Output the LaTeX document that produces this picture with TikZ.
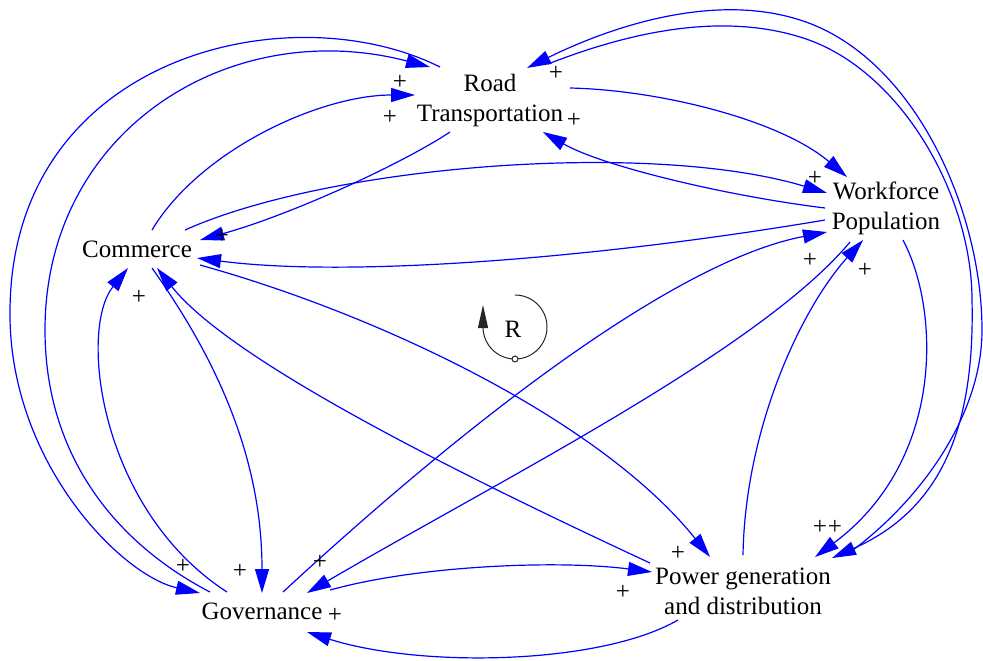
\documentclass[tikz,border=0pt]{standalone}
\usepackage{fontspec}
\setmainfont{Liberation Serif}
\usetikzlibrary{arrows.meta,calc}

\begin{document}
\begin{tikzpicture}[x=0.5pt,y=-0.5pt,
  every node/.style={font=\fontsize{12.5}{15}\selectfont, text=black, inner sep=0pt},
  var/.style={align=center},
  pol/.style={},
  link/.style={draw=blue, line width=0.6pt, -{Triangle[length=12pt,width=7pt]}},
  loopline/.style={draw=black!85, line width=0.5pt}]
\useasboundingbox (0,0) rectangle (983,660);

% variables
\node[var] (rt) at (490,100) {Road\\Transportation};
\node[var] (wf) at (886,208) {Workforce\\Population};
\node[var] (cm) at (137,249) {Commerce};
\node[var] (gv) at (262,611) {Governance};
\node[var] (pw) at (743,591) {Power generation\\and distribution};

% Commerce <-> Road Transportation
\draw[link] ($(cm)+(15,-19)$) .. controls (200,150) and (320,95) .. ($(rt)+(-75,-5)$);
\draw[link] ($(rt)+(-40,32)$) .. controls (400,165) and (290,215) .. ($(cm)+(63,-9)$);

% Commerce <-> Workforce Population
\draw[link] ($(cm)+(48,-19)$) .. controls (330,165) and (650,140) .. ($(wf)+(-59,-15)$);
\draw[link] ($(wf)+(-61,12)$) .. controls (600,258) and (350,278) .. ($(cm)+(60,9)$);

% Road Transportation <-> Workforce Population
\draw[link] ($(wf)+(-61,0)$) .. controls (720,195) and (600,165) .. ($(rt)+(53,32)$);
\draw[link] ($(rt)+(80,-12)$) .. controls (660,90) and (780,120) .. ($(wf)+(-39,-31)$);

% Road Transportation <-> Governance (outer left arcs)
\draw[link] ($(rt)+(-50,-33)$) .. controls (290,-8) and (12,55) .. (10,310)
  .. controls (8,460) and (120,575) .. ($(gv)+(-62,-18)$);
\draw[link] ($(gv)+(-52,-19)$) .. controls (110,540) and (45,450) .. (45,330)
  .. controls (45,130) and (230,15) .. ($(rt)+(-60,-33)$);

% Commerce <-> Governance
\draw[link] ($(gv)+(-35,-19)$) .. controls (100,510) and (78,330) .. ($(cm)+(-9,19)$);
\draw[link] ($(cm)+(15,19)$) .. controls (210,350) and (262,450) .. ($(gv)+(0,-18)$);

% Commerce <-> Power generation
\draw[link] ($(pw)+(-93,-28)$) .. controls (450,470) and (230,360) .. ($(cm)+(20,19)$);
\draw[link] ($(cm)+(63,16)$) .. controls (380,315) and (600,420) .. ($(pw)+(-33,-34)$);

% Governance <-> Workforce Population
\draw[link] ($(gv)+(21,-19)$) .. controls (480,410) and (680,260) .. ($(wf)+(-59,24)$);
\draw[link] ($(wf)+(-36,34)$) .. controls (760,350) and (500,480) .. ($(gv)+(45,-18)$);

% Governance <-> Power generation
\draw[link] ($(gv)+(68,-21)$) .. controls (420,565) and (560,560) .. ($(pw)+(-91,-19)$);
\draw[link] ($(pw)+(-65,29)$) .. controls (600,665) and (420,668) .. ($(gv)+(45,21)$);

% Power generation <-> Workforce Population
\draw[link] ($(pw)+(0,-36)$) .. controls (745,430) and (800,310) .. ($(wf)+(-23,32)$);
\draw[link] ($(wf)+(17,32)$) .. controls (940,310) and (945,460) .. ($(pw)+(72,-34)$);

% Road Transportation <-> Power generation (outer right arcs)
\draw[link] ($(rt)+(58,-36)$) .. controls (627,33) and (719,12) .. (800,37)
  .. controls (900,67) and (972,195) .. (972,300)
  .. controls (975,430) and (940,510) .. ($(pw)+(89,-33)$);
\draw[link] ($(pw)+(110,-41)$) .. controls (921,499) and (982,415) .. (982,330)
  .. controls (982,210) and (914,56) .. (800,20)
  .. controls (713,-8) and (610,27) .. ($(rt)+(37,-32)$);

% polarity signs
\node[pol] (s1)  at (400,82)  {+};
\node[pol] (s2)  at (390,117) {+};
\node[pol] (s3)  at (556,73)  {+};
\node[pol] (s4)  at (574,120) {+};
\node[pol] (s5)  at (815,178) {+};
\node[pol] (s6)  at (222,236) {+};
\node[pol] (s7)  at (139,297) {+};
\node[pol] (s8)  at (183,566) {+};
\node[pol] (s9)  at (240,571) {+};
\node[pol] (s10) at (320,562) {+};
\node[pol] (s11) at (335,615) {+};
\node[pol] (s12) at (623,592) {+};
\node[pol] (s13) at (678,553) {+};
\node[pol] (s14) at (820,527) {+};
\node[pol] (s15) at (835,527) {+};
\node[pol] (s16) at (810,260) {+};
\node[pol] (s17) at (865,270) {+};

% reinforcing loop marker
\coordinate (rc) at (515,327);
\draw[loopline, -{Triangle[length=11.5pt,width=5pt]}]
  ($(rc)+(0,-32)$) arc[start angle=-90, end angle=180, radius=32] -- ++(0,-22);
\draw[loopline, fill=white] ($(rc)+(0,32)$) circle[radius=3];
\node (rl) at (513,329) {R};
\end{tikzpicture}
\end{document}
